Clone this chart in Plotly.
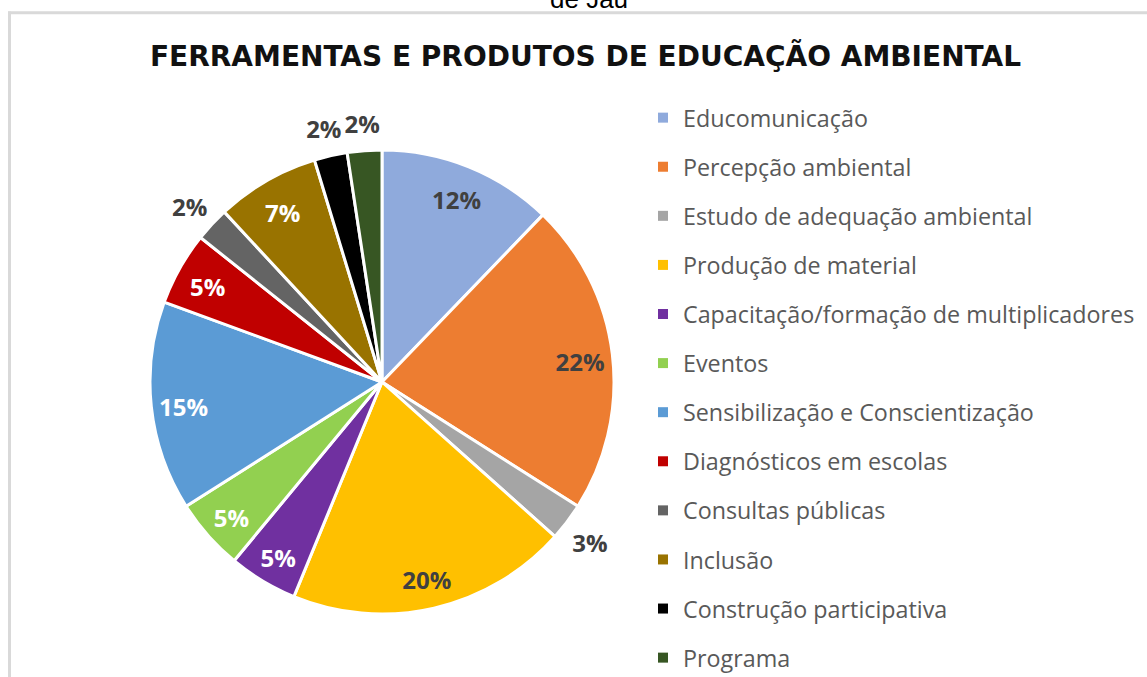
import plotly.graph_objects as go

categories = [
    "Educomunicação", "Percepção ambiental", "Estudo de adequação ambiental",
    "Produção de material", "Capacitação/formação de multiplicadores", "Eventos",
    "Sensibilização e Conscientização", "Diagnósticos em escolas",
    "Consultas públicas", "Inclusão", "Construção participativa", "Programa",
]
values = [12.2, 21.8, 2.6, 19.6, 4.8, 5.0, 14.6, 5.1, 2.4, 7.2, 2.3, 2.4]
colors = ["#8FAADC", "#ED7D31", "#A5A5A5", "#FFC000", "#7030A0", "#92D050",
          "#5B9BD5", "#C00000", "#646464", "#997300", "#000000", "#375623"]
text_colors = ["#404040", "#404040", "#404040", "#404040", "#FFFFFF", "#FFFFFF",
               "#FFFFFF", "#FFFFFF", "#404040", "#FFFFFF", "#404040", "#404040"]
label_outside = [False, False, True, False, False, False,
                 False, False, True, False, True, True]

W, H = 1147, 677
cx, cy, r = 382, 382, 232       # pie centre / radius in px
r_out = 282                     # radius of the ring that carries the outside labels
hole_in = 0.72                  # ring that carries the inside labels
label_dy = 3                    # small downward nudge of the label layers

def dom(rad, dy=0):
    return dict(x=[(cx - rad) / W, (cx + rad) / W],
                y=[1 - (cy + dy + rad) / H, 1 - (cy + dy - rad) / H])

pct = "%{percent:.0%}"
clear = ["rgba(0,0,0,0)"] * len(values)
common = dict(labels=categories, values=values, sort=False, direction="clockwise",
              rotation=0, showlegend=False)
lbl_font = dict(family="Open Sans", size=24, color=text_colors, weight="bold")

fig = go.Figure()
# the coloured slices
fig.add_trace(go.Pie(
    **common, marker=dict(colors=colors, line=dict(color="white", width=3)),
    textinfo="none", domain=dom(r), hoverinfo="label+percent",
))
# inside percentage labels
fig.add_trace(go.Pie(
    **common, hole=hole_in, marker=dict(colors=clear, line=dict(width=0)),
    texttemplate=["" if o else pct for o in label_outside], textposition="inside",
    insidetextorientation="horizontal", textfont=lbl_font,
    domain=dom(r, label_dy), hoverinfo="skip",
))
# outside percentage labels
fig.add_trace(go.Pie(
    **common, marker=dict(colors=clear, line=dict(width=0)),
    texttemplate=[pct if o else "" for o in label_outside], textposition="inside",
    insidetextorientation="horizontal", textfont=lbl_font,
    domain=dom(r_out, label_dy), hoverinfo="skip",
))

for name, col in zip(categories, colors):
    fig.add_trace(go.Scatter(
        x=[None], y=[None], mode="markers", name=name, legendgroup=name,
        marker=dict(symbol="square", size=10, color=col),
        hoverinfo="skip",
    ))

fig.update_layout(
    width=W, height=H,
    margin=dict(l=0, r=0, t=0, b=0, autoexpand=False),
    paper_bgcolor="white", plot_bgcolor="white",
    uniformtext=dict(minsize=24, mode="show"),
    xaxis=dict(visible=False), yaxis=dict(visible=False),
    title=dict(text="<b>FERRAMENTAS E PRODUTOS DE EDUCAÇÃO AMBIENTAL</b>",
               x=585.5 / W, xanchor="center", y=1 - 56 / H, yanchor="middle",
               font=dict(family="DejaVu Sans", size=28, color="#111111")),
    legend=dict(x=643 / W, xanchor="left", y=1 - 96 / H, yanchor="top",
                font=dict(family="Open Sans", size=23.3, color="#595959"),
                tracegroupgap=15.8, bgcolor="rgba(0,0,0,0)"),
    shapes=[
        dict(type="line", xref="paper", yref="paper", x0=8 / W, x1=1, y0=1 - 12.7 / H, y1=1 - 12.7 / H,
             line=dict(color="#D9D9D9", width=3)),
        dict(type="line", xref="paper", yref="paper", x0=9.5 / W, x1=9.5 / W, y0=0, y1=1 - 11.5 / H,
             line=dict(color="#D9D9D9", width=3)),
    ],
    annotations=[dict(text="de Jaú", xref="paper", yref="paper", x=589 / W, y=1 + 1 / H,
                      xanchor="center", yanchor="middle", showarrow=False,
                      font=dict(family="Liberation Sans", size=26, color="#000000"))],
)

fig.write_html("out.html", config={"displayModeBar": False},
               post_script="document.body.style.margin='0';")
